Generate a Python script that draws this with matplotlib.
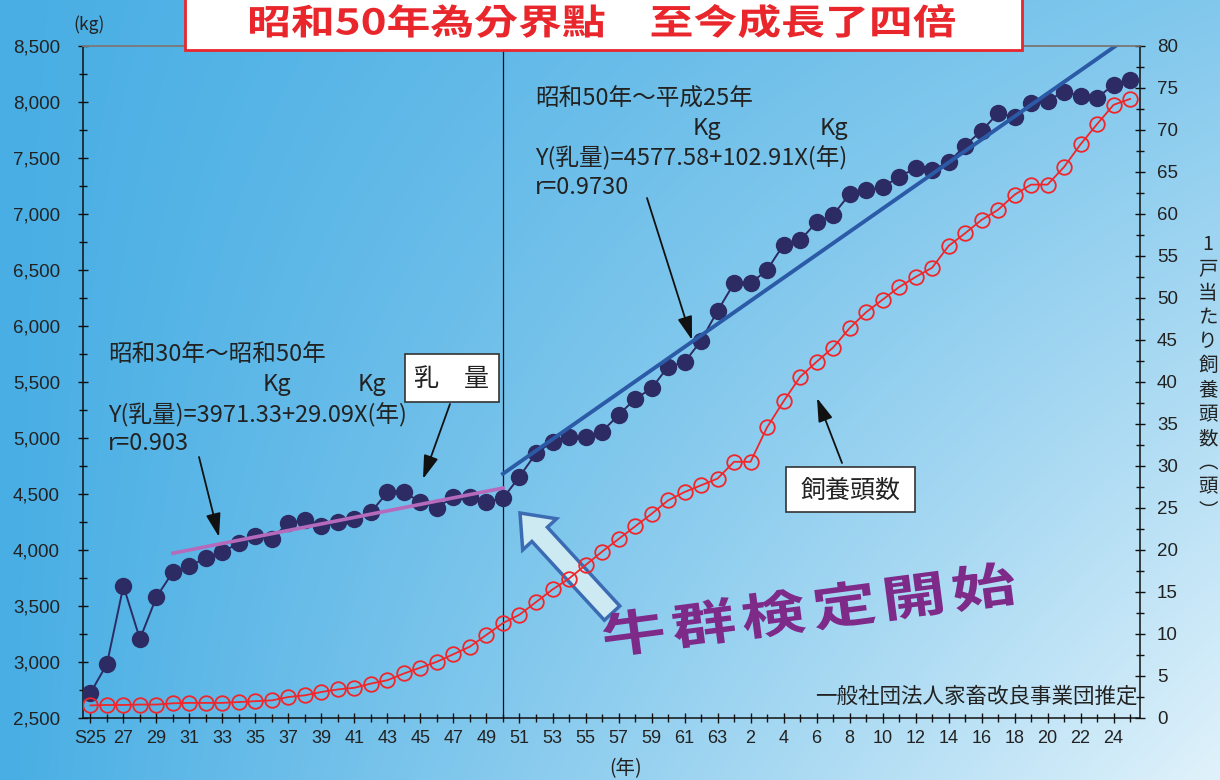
import numpy as np
import matplotlib
matplotlib.use("Agg")
import matplotlib.pyplot as plt
import matplotlib.transforms as mtransforms
from matplotlib import font_manager
from matplotlib.font_manager import FontProperties
from matplotlib.textpath import TextPath
from matplotlib.patches import PathPatch, Polygon, Rectangle
from matplotlib.ticker import FixedLocator, MultipleLocator, FuncFormatter

W, H = 1220, 780
CJK = ['Noto Sans CJK JP', 'DejaVu Sans']

# 0 = 昭和25年 ... 63 = 平成25年
years = np.arange(64)
tick_pos = np.arange(0, 64, 2)
tick_labels = (["S25"] + [str(y) for y in range(27, 64, 2)]
               + [str(y) for y in range(2, 25, 2)])

# 1頭当たり乳量 (kg)
milk = [2723, 2982, 3679, 3205, 3580, 3804, 3860, 3926, 3985, 4060,
        4125, 4101, 4244, 4265, 4211, 4247, 4274, 4339, 4515, 4515,
        4429, 4377, 4476, 4470, 4431, 4462, 4655, 4863, 4967, 5006,
        5006, 5057, 5205, 5348, 5443, 5636, 5676, 5869, 6134, 6381,
        6381, 6500, 6726, 6765, 6926, 6991, 7176, 7214, 7238, 7333,
        7408, 7393, 7461, 7610, 7744, 7899, 7869, 7988, 8012, 8092,
        8057, 8039, 8152, 8196]

# 1戸当たり飼養頭数 (頭)
herd = [1.5, 1.55, 1.55, 1.6, 1.6, 1.75, 1.8, 1.8, 1.8, 1.9,
        2.0, 2.1, 2.5, 2.7, 3.1, 3.4, 3.6, 4.1, 4.5, 5.3,
        6.0, 6.7, 7.6, 8.5, 9.9, 11.3, 12.3, 13.8, 15.3, 16.6,
        18.2, 19.8, 21.3, 22.8, 24.3, 25.9, 26.9, 27.7, 28.5, 30.5,
        30.5, 34.6, 37.7, 40.6, 42.4, 44.1, 46.4, 48.3, 49.8, 51.3,
        52.5, 53.6, 56.2, 57.7, 59.3, 60.5, 62.3, 63.5, 63.5, 65.6,
        68.3, 70.7, 73.0, 73.7]

# regression lines: S30-S50 and S50-H25
early_x = np.arange(5, 26)
early_fit = 3971.33 + 29.09 * (early_x - 5)
late_x = np.arange(25, 64)
late_fit = 4577.58 + 102.91 * (late_x - 24)


def pick_font(*names):
    for n in names:
        try:
            font_manager.findfont(FontProperties(family=n), fallback_to_default=False)
            return n
        except ValueError:
            pass
    return 'DejaVu Sans'


narrow = pick_font('Liberation Sans Narrow')
if narrow == 'Liberation Sans Narrow':
    xfont = dict(family=narrow, size=15)
else:
    xfont = dict(family='Liberation Sans', size=13)


def px(x, y):
    # pixel position measured from the top-left corner -> figure fraction
    return (x / W, 1 - y / H)


fig = plt.figure(figsize=(W / 100, H / 100), dpi=100)

# background gradient
bg = fig.add_axes([0, 0, 1, 1], zorder=-10)
u = np.linspace(0, 1, 400)[None, :]
v = np.linspace(0, 1, 260)[:, None]
t = np.clip(u * (0.38 + 0.62 * v), 0, 1)
c0 = np.array([72, 174, 228]) / 255
c1 = np.array([224, 242, 251]) / 255
bg.imshow(c0 + (c1 - c0) * t[..., None], aspect='auto', extent=[0, 1, 0, 1])
bg.axis('off')

ax = fig.add_axes([83 / W, 1 - 718 / H, (1140 - 83) / W, (718 - 46) / H])
ax.set_facecolor('none')
ax2 = ax.twinx()
ax2.set_facecolor('none')

ax.set_xlim(-0.45, 63.6)
ax.set_ylim(2500, 8500)
ax2.set_ylim(0, 80)

ax.plot(years, milk, '-o', color='#2d2b63', ms=11.5, lw=1.4, zorder=3)
ax.plot(early_x, early_fit, color='#b56abb', lw=2.6, zorder=4)
ax.plot(late_x, late_fit, color='#2b5aa6', lw=2.8, zorder=4)
ax.axvline(25, color='#111111', lw=0.9, zorder=2)

ax2.plot(years, herd, '-o', color='#f0262a', mfc='none', ms=10.5, mew=1.3, lw=1.3)

# axes styling
ax.spines['right'].set_visible(False)
for s in ['left', 'bottom']:
    ax2.spines[s].set_visible(False)
ax.spines['top'].set_color('#7a7a7a')
ax2.spines['top'].set_color('#7a7a7a')
for a in (ax, ax2):
    for s in a.spines.values():
        s.set_linewidth(1.1)
ax.spines['left'].set_color('#111111')
ax.spines['bottom'].set_color('#111111')
ax2.spines['right'].set_color('#111111')

ax.xaxis.set_major_locator(FixedLocator(tick_pos))
ax.xaxis.set_minor_locator(FixedLocator(np.arange(1, 64, 2)))
ax.set_xticklabels(tick_labels, **xfont, color='#222222')
ax.yaxis.set_major_locator(MultipleLocator(500))
ax.yaxis.set_minor_locator(MultipleLocator(250))
ax.yaxis.set_major_formatter(FuncFormatter(lambda val, pos: f"{int(val):,}"))
ax2.yaxis.set_major_locator(MultipleLocator(5))
ax2.yaxis.set_minor_locator(MultipleLocator(2.5))

ax.tick_params(axis='both', which='both', direction='inout', color='#111111', width=1)
ax.tick_params(axis='both', which='major', length=7)
ax.tick_params(axis='both', which='minor', length=5.5)
ax.tick_params(axis='x', which='major', pad=5)
ax.tick_params(axis='y', which='major', pad=13, labelsize=13.5, labelcolor='#222222')
ax2.tick_params(axis='y', which='both', direction='inout', color='#111111', width=1)
ax2.tick_params(axis='y', which='major', length=7, pad=8.7, labelsize=13.5, labelcolor='#222222')
ax2.tick_params(axis='y', which='minor', length=5.5)
for lab in ax.get_yticklabels() + ax2.get_yticklabels():
    lab.set_family('Liberation Sans')

# unit labels
fig.text(*px(89, 25), "(kg)", family=CJK, fontsize=12.5, color='#222222',
         ha='center', va='center')
fig.text(*px(626, 769), "(年)", family=CJK, fontsize=14, color='#222222',
         ha='center', va='center')
fig.text(*px(1208, 378), "\n".join("1戸当たり飼養頭数︵頭︶"), family=CJK,
         fontsize=14, color='#222222', ha='center', va='center',
         linespacing=1.2, multialignment='center')
fig.text(*px(1138, 697), "一般社団法人家畜改良事業団推定", family=CJK,
         fontsize=15.5, color='#222222', ha='right', va='center')

# regression notes
note = dict(family=CJK, fontsize=17, color='#222222', va='center')
fig.text(*px(535, 99), "昭和50年～平成25年", **note)
fig.text(*px(693, 128), "Kg", **note)
fig.text(*px(820, 128), "Kg", **note)
fig.text(*px(535, 158), "Y(乳量)=4577.58+102.91X(年)", **note)
fig.text(*px(535, 188), "r=0.9730", **note)

fig.text(*px(108, 355), "昭和30年～昭和50年", **note)
fig.text(*px(263, 385), "Kg", **note)
fig.text(*px(358, 385), "Kg", **note)
fig.text(*px(108, 415), "Y(乳量)=3971.33+29.09X(年)", **note)
fig.text(*px(108, 443), "r=0.903", **note)

# boxed series labels
for (x0, y0, x1, y1), label in [((405, 354, 499, 402), "乳　量"),
                                ((786, 467, 915, 512), "飼養頭数")]:
    fig.add_artist(Rectangle(px(x0, y1), (x1 - x0) / W, (y1 - y0) / H,
                             transform=fig.transFigure, fc='white',
                             ec='#333333', lw=1.2, zorder=5))
    fig.text(*px((x0 + x1) / 2, (y0 + y1) / 2 + 1), label, family=CJK,
             fontsize=18, color='#222222', ha='center', va='center', zorder=6)

arrow = dict(arrowstyle='-|>,head_length=0.8,head_width=0.25', color='#111111',
             lw=1.3, shrinkA=0, shrinkB=0, mutation_scale=18)
for tail, tip in [((647, 198), (692, 340)), ((199, 457), (219, 537)),
                  ((450, 404), (423, 479)), ((842, 463), (817, 398))]:
    ax.annotate('', xy=px(*tip), xytext=px(*tail), xycoords='figure fraction',
                textcoords='figure fraction', arrowprops=arrow, zorder=6)

# block arrow pointing at S50
tip = np.array([520.0, 513.0])
d = np.array([92.0, 100.0])
d /= np.hypot(*d)
n = np.array([d[1], -d[0]])
head_len, head_w, shaft_w, total = 29, 23, 10.5, 136
pts = [tip,
       tip + d * head_len + n * head_w,
       tip + d * head_len + n * shaft_w,
       tip + d * total + n * shaft_w,
       tip + d * total - n * shaft_w,
       tip + d * head_len - n * shaft_w,
       tip + d * head_len - n * head_w]
ax.add_patch(Polygon([px(*p) for p in pts], closed=True, transform=fig.transFigure,
                     fc='#cde9f1', ec='#3b6cb3', lw=2.5, zorder=1, clip_on=False))


def path_patch(path, tr, color):
    tr = tr + mtransforms.Affine2D().scale(1 / W, 1 / H)
    fig.add_artist(PathPatch(tr.transform_path(path), transform=fig.transFigure,
                             fc=color, ec='none', zorder=7))


def fitted_text(text, box, color, family='Noto Sans CJK JP'):
    # text drawn as a path stretched to fill box = (x0, y0, x1, y1) in pixels
    x0, y0, x1, y1 = box
    path = TextPath((0, 0), text, size=100, prop=FontProperties(family=family, weight='bold'))
    ext = path.get_extents()
    tr = (mtransforms.Affine2D()
          .translate(-(ext.x0 + ext.width / 2), -(ext.y0 + ext.height / 2))
          .scale((x1 - x0) / ext.width, (y1 - y0) / ext.height)
          .translate((x0 + x1) / 2, H - (y0 + y1) / 2))
    path_patch(path, tr, color)


def spaced_text(text, start, end, char_w, char_h, color, family='Noto Sans CJK JP'):
    # one glyph per position, evenly spaced from start to end centre (pixels)
    prop = FontProperties(family=family, weight='bold')
    paths = [TextPath((0, 0), ch, size=100, prop=prop) for ch in text]
    exts = [p.get_extents() for p in paths]
    sx = char_w / np.mean([e.width for e in exts])
    ymin = min(e.y0 for e in exts)
    ymax = max(e.y1 for e in exts)
    sy = char_h / (ymax - ymin)
    (xa, ya), (xb, yb) = start, end
    angle = np.degrees(np.arctan2(ya - yb, xb - xa))
    for k, (p, e) in enumerate(zip(paths, exts)):
        f = k / (len(text) - 1)
        cx, cy = xa + (xb - xa) * f, ya + (yb - ya) * f
        tr = (mtransforms.Affine2D()
              .translate(-(e.x0 + e.width / 2), -(ymin + ymax) / 2)
              .scale(sx, sy)
              .rotate_deg(angle)
              .translate(cx, H - cy))
        path_patch(p, tr, color)


# headline
fig.add_artist(Rectangle(px(185, 50), (1022 - 185) / W, 60 / H,
                         transform=fig.transFigure, fc='white', ec='#e8262b',
                         lw=2, zorder=5))
fitted_text("昭和50年為分界點\u3000至今成長了四倍", (250, 4, 955, 38), '#e8262b',
            family='Noto Sans CJK TC')

spaced_text("牛群検定開始", (633, 632), (984, 586), 60, 46, '#7e2a88')

fig.savefig("out.png", dpi=100)
